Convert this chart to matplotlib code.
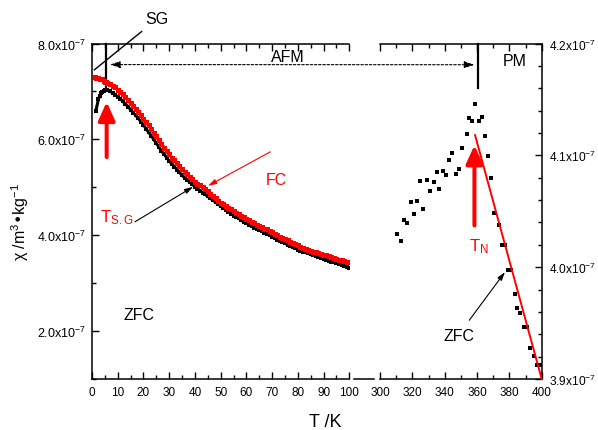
import matplotlib
matplotlib.use('Agg')
import matplotlib.pyplot as plt
from matplotlib.lines import Line2D
from matplotlib.ticker import MultipleLocator

plt.rcParams['font.family'] = ['Liberation Sans', 'DejaVu Sans']
plt.rcParams['mathtext.default'] = 'regular'

# ---------------- data (chi in units of 1e-7 m^3/kg) ----------------
T_zfc = [1.5, 2.5, 3, 3.5, 4, 4.5, 5, 5.5, 6, 7, 8, 9, 10, 11, 12, 13, 14, 15, 16, 17, 18, 19,
         20, 21, 22, 23, 24, 25, 26, 27, 28, 29, 30, 31, 32, 33, 34, 35, 36, 37, 38, 39,
         40, 41, 42, 43, 44, 45, 46, 47, 48, 49, 50, 51, 52, 53, 54, 55, 56, 57, 58, 59,
         60, 61, 62, 63, 64, 65, 66, 67, 68, 69, 70, 71, 72, 73, 74, 75, 76, 77, 78, 79,
         80, 81, 82, 83, 84, 85, 86, 87, 88, 89, 90, 91, 92, 93, 94, 95, 96, 97, 98, 99, 100]
chi_zfc = [6.59, 6.84, 6.91, 6.96, 6.99, 7.01, 7.02, 7.03, 7.03, 7.00, 6.97, 6.93, 6.89, 6.85,
           6.79, 6.74, 6.68, 6.62, 6.56, 6.50, 6.44, 6.37, 6.30, 6.22, 6.15, 6.08, 6.00, 5.92,
           5.84, 5.76, 5.69, 5.62, 5.55, 5.49, 5.43, 5.37, 5.31, 5.25, 5.20, 5.15, 5.11, 5.06,
           5.01, 4.97, 4.93, 4.89, 4.85, 4.81, 4.77, 4.73, 4.69, 4.65, 4.61, 4.57, 4.53, 4.49,
           4.45, 4.41, 4.38, 4.35, 4.31, 4.28, 4.25, 4.22, 4.19, 4.16, 4.13, 4.11, 4.08, 4.05,
           4.03, 4.00, 3.97, 3.94, 3.91, 3.88, 3.86, 3.83, 3.80, 3.78, 3.75, 3.73, 3.70, 3.68,
           3.66, 3.64, 3.62, 3.60, 3.58, 3.56, 3.54, 3.52, 3.50, 3.49, 3.47, 3.45, 3.44, 3.42,
           3.40, 3.38, 3.36, 3.34, 3.32]

T_fc = [1, 1.5, 2, 2.5, 3, 3.5, 4, 4.5, 5, 5.5, 6, 7, 8, 9, 10, 11, 12, 13, 14, 15, 16, 17, 18,
        19, 20, 21, 22, 23, 24, 25, 26, 27, 28, 29, 30, 31, 32, 33, 34, 35, 36, 37, 38, 39,
        40, 41, 42, 43, 44, 45, 46, 47, 48, 49, 50, 51, 52, 53, 54, 55, 56, 57, 58, 59,
        60, 61, 62, 63, 64, 65, 66, 67, 68, 69, 70, 71, 72, 73, 74, 75, 76, 77, 78, 79,
        80, 81, 82, 83, 84, 85, 86, 87, 88, 89, 90, 91, 92, 93, 94, 95, 96, 97, 98, 99, 100]
chi_fc = [7.30, 7.29, 7.28, 7.27, 7.26, 7.26, 7.25, 7.21, 7.19, 7.19, 7.18, 7.15, 7.12, 7.09,
          7.04, 6.99, 6.94, 6.88, 6.82, 6.76, 6.70, 6.64, 6.58, 6.51, 6.43, 6.36, 6.29, 6.21,
          6.13, 6.06, 5.98, 5.91, 5.83, 5.76, 5.69, 5.62, 5.56, 5.50, 5.44, 5.38, 5.32, 5.27,
          5.22, 5.17, 5.12, 5.07, 5.04, 5.00, 4.96, 4.92, 4.87, 4.82, 4.77, 4.72, 4.68, 4.65,
          4.61, 4.57, 4.54, 4.50, 4.47, 4.44, 4.40, 4.37, 4.34, 4.31, 4.28, 4.25, 4.22, 4.20,
          4.17, 4.14, 4.12, 4.09, 4.06, 4.03, 4.00, 3.97, 3.94, 3.92, 3.89, 3.86, 3.84, 3.81,
          3.79, 3.76, 3.74, 3.72, 3.70, 3.68, 3.66, 3.65, 3.63, 3.61, 3.59, 3.58, 3.56, 3.54,
          3.52, 3.51, 3.49, 3.48, 3.46, 3.45, 3.44]

T_hi = [310.3, 312.8, 314.8, 316.9, 319.0, 321.0, 323.1, 324.7, 326.8, 328.9, 330.9, 333.4,
        335.1, 336.7, 339.0, 341.0, 342.9, 344.7, 346.8, 348.9, 350.9, 353.6, 354.9, 356.9,
        358.8, 361.2, 362.9, 364.9, 367.0, 368.6, 370.7, 373.8, 375.3, 377.3, 379.0, 381.0,
        383.3, 384.9, 386.8, 389.1, 391.1, 392.8, 395.2, 396.9, 398.9]
chi_hi = [4.0293, 4.0234, 4.0418, 4.0397, 4.0582, 4.0478, 4.0588, 4.0770, 4.0516, 4.0775,
          4.0680, 4.0761, 4.0853, 4.0695, 4.0862, 4.0823, 4.0954, 4.1022, 4.0829, 4.0877,
          4.1070, 4.1192, 4.1332, 4.1308, 4.1462, 4.1308, 4.1344, 4.1174, 4.0998, 4.0796,
          4.0487, 4.0373, 4.0198, 4.0198, 3.9971, 3.9971, 3.9757, 3.9638, 3.9594, 3.9466,
          3.9466, 3.9281, 3.9207, 3.9121, 3.9121]

fit_T = [358.8, 400.0]
fit_chi = [4.118, 3.900]

left_yticks = [2, 4, 6, 8]
left_ylabels = [r'2.0x10$^{-7}$', r'4.0x10$^{-7}$', r'6.0x10$^{-7}$', r'8.0x10$^{-7}$']
right_yticks = [3.9, 4.0, 4.1, 4.2]
right_ylabels = [r'3.9x10$^{-7}$', r'4.0x10$^{-7}$', r'4.1x10$^{-7}$', r'4.2x10$^{-7}$']

# ---------------- figure ----------------
W, H = 598, 431
fig = plt.figure(figsize=(W / 100, H / 100), dpi=100)
ax1 = fig.add_axes([92 / W, 1 - 380 / H, (349.3 - 92) / W, (380 - 44.5) / H])
ax2 = fig.add_axes([380 / W, 1 - 380 / H, (541.7 - 380) / W, (380 - 44.5) / H])

for ax in (ax1, ax2):
    ax.set_facecolor('none')
    for s in ax.spines.values():
        s.set_linewidth(1.1)
ax1.spines['right'].set_visible(False)
ax2.spines['left'].set_visible(False)

# left panel data
ax1.plot(T_zfc, chi_zfc, color='black', lw=2.2, marker='s', ms=3.2, mew=0, zorder=3)
ax1.plot(T_fc, chi_fc, color='red', lw=2.4, marker='s', ms=3.6, mew=0, zorder=4)
ax1.set_xlim(0, 100)
ax1.set_ylim(1, 8)
ax1.xaxis.set_major_locator(MultipleLocator(10))
ax1.xaxis.set_minor_locator(MultipleLocator(5))
ax1.set_yticks(left_yticks, left_ylabels)
ax1.yaxis.set_minor_locator(MultipleLocator(1))
ax1.tick_params(which='both', direction='in', top=True, right=False, width=1)
ax1.tick_params(which='major', length=5)
ax1.tick_params(which='minor', length=3)
ax1.tick_params(axis='x', labelsize=8.5, pad=5)
ax1.tick_params(axis='y', labelsize=9, pad=4)

# right panel data
ax2.plot(T_hi, chi_hi, ls='none', marker='s', ms=3.2, color='black', mew=0, zorder=3)
ax2.plot(fit_T, fit_chi, color='red', lw=1.4, zorder=4, clip_on=False)
ax2.set_xlim(300, 400)
ax2.set_ylim(3.9, 4.2)
ax2.xaxis.set_major_locator(MultipleLocator(20))
ax2.xaxis.set_minor_locator(MultipleLocator(10))
ax2.set_yticks(right_yticks, right_ylabels)
ax2.yaxis.set_minor_locator(MultipleLocator(0.02))
ax2.tick_params(which='both', direction='in', top=True, left=False, right=True,
                labelleft=False, labelright=True, width=1)
ax2.tick_params(which='major', length=5)
ax2.tick_params(which='minor', length=3)
ax2.tick_params(axis='x', labelsize=8.5, pad=5)
ax2.tick_params(axis='y', labelsize=8.6, pad=5)

# axis break segment on the bottom
fig.add_artist(Line2D([354 / W, 374 / W], [1 - 380 / H] * 2, color='black', lw=1.1,
                      transform=fig.transFigure))

# ---------------- annotations ----------------
fs = 11.5
# SG marker line and vertical line
ax1.plot([0.9, 19.3], [7.45, 8.25], color='black', lw=1.0, clip_on=False)
ax1.plot([5.4, 5.4], [7.09, 8.0], color='black', lw=1.6, clip_on=False)
ax1.text(25.2, 8.53, 'SG', ha='center', va='center', fontsize=fs)
# TN vertical line
ax2.plot([360.4, 360.4], [4.16, 4.2], color='black', lw=1.6, clip_on=False)

# dashed AFM double arrow across both panels
ax2.annotate('', xy=(358.4, 4.181), xycoords=ax2.transData,
             xytext=(7.0, 7.56), textcoords=ax1.transData,
             arrowprops=dict(arrowstyle='<|-|>,head_length=0.6,head_width=0.2',
                             linestyle=(0, (2.2, 1.6)), lw=0.8, color='black',
                             shrinkA=0, shrinkB=0),
             annotation_clip=False)
ax1.text(76.2, 7.58, 'AFM', ha='center', va='bottom', fontsize=fs)
ax2.text(383.3, 4.1846, 'PM', ha='center', va='center', fontsize=fs)

# red thick arrows
big = dict(arrowstyle='-|>,head_length=1.1,head_width=0.5', lw=2.9, color='red',
           shrinkA=0, shrinkB=0)
ax1.annotate('', xy=(5.7, 6.78), xytext=(5.7, 5.63), arrowprops=big, annotation_clip=False)
ax2.annotate('', xy=(358.4, 4.109), xytext=(358.4, 4.0373), arrowprops=big,
             annotation_clip=False)

# T_SG label with pointer
ax1.text(3.1, 4.39, r'T$_{S.G}$', color='red', ha='left', va='center', fontsize=12)
ax1.annotate('', xy=(39.3, 5.01), xytext=(16.7, 4.28),
             arrowprops=dict(arrowstyle='-|>,head_length=0.5,head_width=0.15', lw=0.8,
                             color='black', shrinkA=0, shrinkB=0))
# FC label with pointer
ax1.text(71.8, 5.16, 'FC', color='red', ha='center', va='center', fontsize=fs)
ax1.annotate('', xy=(45.1, 5.03), xytext=(69.3, 5.74),
             arrowprops=dict(arrowstyle='-|>,head_length=0.5,head_width=0.15', lw=0.8,
                             color='red', shrinkA=0, shrinkB=0))
# ZFC labels
ax1.text(18.3, 2.34, 'ZFC', ha='center', va='center', fontsize=fs)
ax2.text(355.2, 4.0195, r'T$_N$', color='red', ha='left', va='center', fontsize=12)
ax2.text(348.9, 3.939, 'ZFC', ha='center', va='center', fontsize=fs)
ax2.annotate('', xy=(377.3, 3.9957), xytext=(355.2, 3.9525),
             arrowprops=dict(arrowstyle='-|>,head_length=0.5,head_width=0.15', lw=0.8,
                             color='black', shrinkA=0, shrinkB=0))

# axis labels
fig.text(325 / W, 1 - 423 / H, 'T /K', ha='center', va='center', fontsize=13)
fig.text(20 / W, 1 - 222 / H, r'χ /m$^{3}$•kg$^{-1}$', rotation=90, ha='center',
         va='center', fontsize=11.5)

fig.savefig('out.png', dpi=100)
